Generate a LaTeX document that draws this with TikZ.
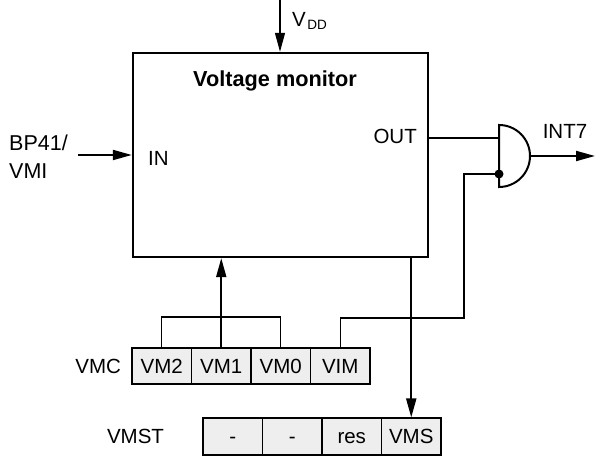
\documentclass[tikz,border=0pt]{standalone}
\usepackage{fontspec}
\setmainfont{Liberation Sans}
\usepackage{tikz}
\usetikzlibrary{arrows.meta,positioning}
\definecolor{RegCellGray}{RGB}{238,238,238}

\begin{document}
\begin{tikzpicture}[x=1pt,y=1pt,font=\fontsize{20.5}{28}\selectfont,every node/.style={inner sep=0pt},
  wire/.style={line width=1.2pt},bus/.style={line width=2pt},
  arr/.style={bus,-{Triangle[length=19pt,width=10pt]}},
  cell/.style={draw,line width=1.6pt,fill=RegCellGray,minimum width=59.5pt,minimum height=36.5pt,text height=15pt,text depth=0pt}]
\useasboundingbox (0,0) rectangle (595,457);
\node[draw,line width=2.4pt,minimum width=295pt,minimum height=204pt](vm) at(280.5,302) {};
\node[anchor=base,font=\fontsize{21.7}{28}\selectfont\bfseries](title) at(275,370) {Voltage monitor};
\node[anchor=west](inlbl) at(148,299) {IN};
\node[anchor=east](outlbl) at(417,321) {OUT};
\node[anchor=west,align=left,font=\fontsize{21.5}{28}\selectfont](bplbl) at(9,300) {BP41/\\VMI};
\node[anchor=base west](vddlbl) at(292,430) {V\kern1.5pt\raisebox{-2.5pt}{\fontsize{13.5}{14}\selectfont DD}};
\node(int7lbl) at(565,326) {INT7};
\foreach \i/\t in {1/VM2,2/VM1,3/VM0,4/VIM} {
   \node[cell](vmc-\i) at(102.25+59.5*\i,91) {\t};
}
\foreach \i/\t in {1/-,2/-,3/res,4/VMS} {
   \node[cell](vmst-\i) at(173.25+59.5*\i,20.5) {\t};
}
\node[left=10pt of vmc-1](vmclbl) {VMC};
\node[left=38pt of vmst-1](vmstlbl) {VMST};
\coordinate (vdd) at(280,457);
\coordinate (bp) at(78,302);
\coordinate (gin1) at(499,319);
\coordinate (gin2) at(499,283);
\coordinate (gout) at(530,301);
\coordinate (int7) at(595,301);
\coordinate (vimbend) at(464,139);
\draw[line width=2pt] (499,270) arc(-90:90:31) -- cycle;
\fill (gin2) circle(4.5);
\draw[arr,line width=1.3pt] (vdd) -- (vdd |- vm.north);
\draw[arr] (bp) -- (bp -| vm.west);
\draw[bus] (vm.east |- gin1) -- (gin1);
\draw[arr] (gout) -- (int7);
\draw[wire] (gin2) -| (vimbend) -| (vmc-4.north);
\draw[wire] (vmc-1.north) -- ++(0,30) -| (vmc-3.north);
\draw[arr] (vmc-2.north) -- (vmc-2.north |- vm.south);
\draw[arr] (vmst-4.north |- vm.south) -- (vmst-4.north);
\end{tikzpicture}
\end{document}
